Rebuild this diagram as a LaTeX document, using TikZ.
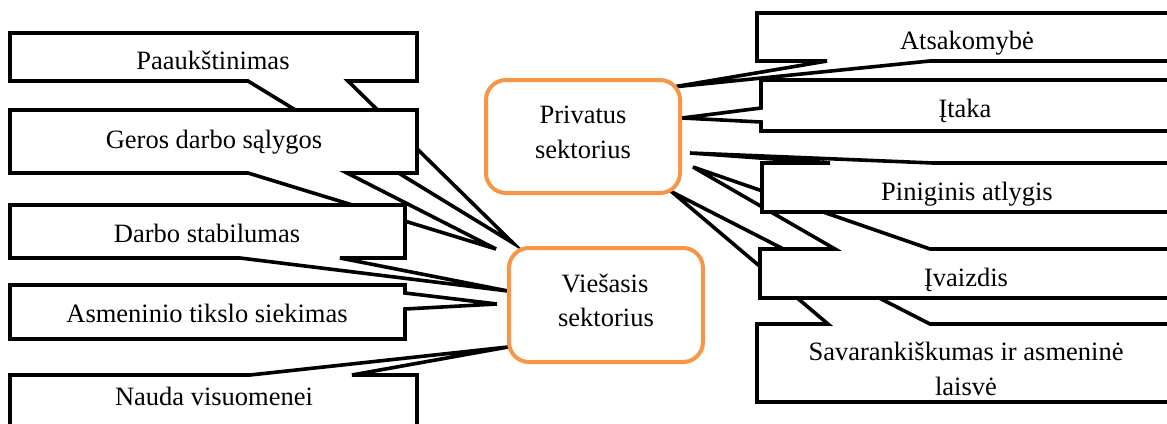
\documentclass[tikz,border=0pt]{standalone}
\usepackage{fontspec}
\setmainfont{Liberation Serif}
\definecolor{accorange}{HTML}{F79646}
\begin{document}
\begin{tikzpicture}[x=1pt,y=-1pt,
  callout/.style={draw=black,fill=white,line width=3.6pt,line join=miter},
  sector/.style={draw=accorange,fill=white,line width=4pt,rounded corners=20pt},
  lbl/.style={anchor=base,inner sep=0pt,font=\fontsize{26.5}{35}\selectfont},
  slbl/.style={anchor=base,inner sep=0pt,font=\fontsize{26.5}{35}\selectfont}]
\useasboundingbox (0,0) rectangle (1167,423);
\clip (0,0) rectangle (1167,423);
% tips of the callout pointers
\coordinate (tPaauk) at (513,243);
\coordinate (tGeros) at (496,249);
\coordinate (tDarbo) at (508,291);
\coordinate (tAsm)   at (497,304);
\coordinate (tNauda) at (508,347);
\coordinate (tAts)   at (673,87);
\coordinate (tItaka) at (682,118);
\coordinate (tPin)   at (690,153);
\coordinate (tIvz)   at (693,167);
\coordinate (tSav)   at (672,192);
% left callouts
\path[callout] (10,33) -- (417,33) -- (417,81) -- (348,81) -- (tPaauk) -- (248,81) -- (10,81) -- cycle;
\node[lbl] (paauk) at (213,69) {Paaukštinimas};
\path[callout] (10,110) -- (417,110) -- (417,173) -- (347,173) -- (tGeros) -- (248,173) -- (10,173) -- cycle;
\node[lbl] (geros) at (214,148) {Geros darbo sąlygos};
\path[callout] (10,205) -- (405,205) -- (405,258) -- (340,258) -- (tDarbo) -- (240,258) -- (10,258) -- cycle;
\node[lbl] (darbo) at (207,242) {Darbo stabilumas};
\path[callout] (10,285) -- (405,285) -- (405,293) -- (tAsm) -- (405,309) -- (405,339) -- (10,339) -- cycle;
\node[lbl] (asm) at (207,322) {Asmeninio tikslo siekimas};
\path[callout] (10,440) -- (10,375) -- (250,375) -- (tNauda) -- (352,375) -- (417,375) -- (417,440);
\node[lbl] (nauda) at (214,405) {Nauda visuomenei};
% right callouts
\path[callout] (757,324) -- (828,324) -- (tSav) -- (930,324) -- (1190,324) -- (1190,402) -- (757,402) -- cycle;
\node[lbl] (sav1) at (966,360) {Savarankiškumas ir asmeninė};
\node[lbl] (sav2) at (966,395) {laisvė};
\path[callout] (760,249) -- (835,249) -- (tIvz) -- (930,249) -- (1190,249) -- (1190,298) -- (760,298) -- cycle;
\node[lbl] (ivz) at (966,286) {Įvaizdis};
\path[callout] (762,163) -- (830,163) -- (tPin) -- (933,163) -- (1190,163) -- (1190,212) -- (762,212) -- cycle;
\node[lbl] (pin) at (967,200) {Piniginis atlygis};
\path[callout] (761,80) -- (1190,80) -- (1190,131) -- (761,131) -- (761,122) -- (tItaka) -- (761,108) -- cycle;
\node[lbl] (itaka) at (965,117) {Įtaka};
\path[callout] (757,13) -- (1190,13) -- (1190,61) -- (930,61) -- (tAts) -- (827,61) -- (757,61) -- cycle;
\node[lbl] (ats) at (967,49) {Atsakomybė};
% sector boxes
\path[sector] (486,80) rectangle (680,193);
\node[slbl] (priv1) at (583,123) {Privatus};
\node[slbl] (priv2) at (583,158) {sektorius};
\path[sector] (509,248) rectangle (703,362);
\node[slbl] (vies1) at (605,292) {Viešasis};
\node[slbl] (vies2) at (606,326) {sektorius};
\end{tikzpicture}
\end{document}
